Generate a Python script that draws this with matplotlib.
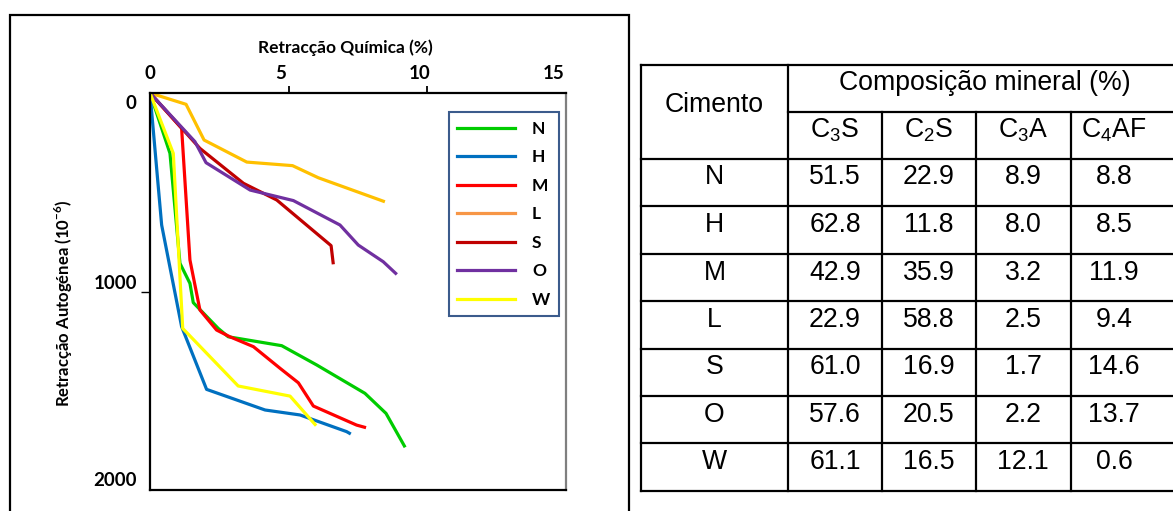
import matplotlib
matplotlib.use("Agg")
import matplotlib.pyplot as plt
from matplotlib.lines import Line2D
from matplotlib.transforms import ScaledTranslation

# Chemical shrinkage (%) vs autogenous shrinkage (1e-6) per cement
N_x = [0, 0.72, 1.08, 1.44, 1.56, 2.46, 2.82, 4.75, 6.01, 7.75, 8.51, 9.20]
N_y = [0, 304, 858, 959, 1056, 1186, 1228, 1273, 1370, 1513, 1614, 1785]
H_x = [0, 0.42, 1.14, 2.04, 4.15, 5.41, 7.09, 7.24]
H_y = [0, 665, 1177, 1493, 1597, 1622, 1706, 1718]
M_x = [0, 1.14, 1.44, 1.80, 2.40, 2.88, 3.73, 4.69, 5.35, 5.89, 7.45, 7.79]
M_y = [0, 178, 841, 1093, 1194, 1228, 1278, 1387, 1460, 1577, 1673, 1686]
L_x = [0, 1.30, 1.95, 3.49, 5.14, 6.07, 8.47]
L_y = [0, 57, 237, 348, 366, 427, 548]
S_x = [0, 1.80, 3.37, 4.57, 6.53, 6.61]
S_y = [0, 279, 455, 539, 769, 863]
O_x = [0, 1.62, 2.02, 3.61, 5.17, 6.85, 7.51, 8.41, 8.90]
O_y = [0, 245, 351, 489, 542, 665, 766, 850, 914]
W_x = [0, 0.84, 1.18, 3.18, 5.05, 5.99]
W_y = [0, 304, 1186, 1476, 1527, 1676]

series_names = ["N", "H", "M", "L", "S", "O", "W"]
series_x = [N_x, H_x, M_x, L_x, S_x, O_x, W_x]
series_y = [N_y, H_y, M_y, L_y, S_y, O_y, W_y]
line_colors = ["#00CC00", "#0070C0", "#FF0000", "#FFC000", "#C00000", "#7030A0", "#FFFF00"]
legend_colors = ["#00CC00", "#0070C0", "#FF0000", "#F79646", "#C00000", "#7030A0", "#FFFF00"]

x_ticks = [0, 5, 10, 15]
y_ticks = [0, 1000, 2000]

# Mineral composition table
cement = ["N", "H", "M", "L", "S", "O", "W"]
C3S = [51.5, 62.8, 42.9, 22.9, 61.0, 57.6, 61.1]
C2S = [22.9, 11.8, 35.9, 58.8, 16.9, 20.5, 16.5]
C3A = [8.9, 8.0, 3.2, 2.5, 1.7, 2.2, 12.1]
C4AF = [8.8, 8.5, 11.9, 9.4, 14.6, 13.7, 0.6]
phase_labels = ["C$_\\mathregular{3}$S", "C$_\\mathregular{2}$S",
                "C$_\\mathregular{3}$A", "C$_\\mathregular{4}$AF"]

W_PX, H_PX = 1173, 511
fig = plt.figure(figsize=(W_PX / 100, H_PX / 100), dpi=100)

CHART_FONT = ["Lato", "DejaVu Sans"]
TABLE_FONT = ["Liberation Sans", "DejaVu Sans"]

# Canvas axis in pixel units for the frame and the table
canvas = fig.add_axes([0, 0, 1, 1])
canvas.set_xlim(0, W_PX)
canvas.set_ylim(H_PX, 0)
canvas.axis("off")

# Frame round the chart
canvas.plot([10, 10, 629, 629], [520, 15, 15, 520], color="black", lw=1.6,
            solid_joinstyle="miter", clip_on=False)

def fx(px):
    return px / W_PX

def fy(py):
    return 1 - py / H_PX

left, right, top, bottom = 150, 566, 93, 490
ax = fig.add_axes([fx(left), fy(bottom), fx(right) - fx(left), fy(top) - fy(bottom)])

for name, xs, ys, col in zip(series_names, series_x, series_y, line_colors):
    ax.plot(xs, ys, color=col, lw=2.3, label=name, solid_joinstyle="round",
            solid_capstyle="butt")

ax.set_xlim(0, 15)
ax.set_ylim(2000, 0)
ax.xaxis.tick_top()
ax.set_xticks(x_ticks)
ax.set_yticks(y_ticks)
ax.set_xticklabels([str(v) for v in x_ticks], fontfamily=CHART_FONT,
                   fontweight="bold", fontsize=13.5)
ax.set_yticklabels([str(v) for v in y_ticks], fontfamily=CHART_FONT,
                   fontweight="bold", fontsize=13.5)
ax.tick_params(axis="x", direction="out", length=5, width=1.3, pad=3)
ax.tick_params(axis="y", direction="out", length=6.5, width=1.0, pad=3)

# Corner ticks are hidden; only the inner ticks show
for t in [ax.xaxis.get_major_ticks()[0], ax.xaxis.get_major_ticks()[-1],
          ax.yaxis.get_major_ticks()[0], ax.yaxis.get_major_ticks()[-1]]:
    t.tick1line.set_visible(False)
    t.tick2line.set_visible(False)

# Tick labels sit a little off their ticks
x_shift = [0, -8, -8, -12]
for lab, dx in zip(ax.get_xticklabels(), x_shift):
    lab.set_transform(lab.get_transform() + ScaledTranslation(dx / 100, 0, fig.dpi_scale_trans))
y_shift = [-9, 10, 11]
for lab, dy in zip(ax.get_yticklabels(), y_shift):
    lab.set_transform(lab.get_transform() + ScaledTranslation(0, dy / 100, fig.dpi_scale_trans))

for side in ["left", "top", "bottom"]:
    ax.spines[side].set_color("black")
    ax.spines[side].set_linewidth(1.6)
ax.spines["right"].set_color("#7F7F7F")
ax.spines["right"].set_linewidth(1.6)

ax.xaxis.set_label_position("top")
ax.set_xlabel("Retracção Química (%)", fontfamily=CHART_FONT, fontweight="bold",
              fontsize=12.5)
ax.xaxis.set_label_coords(0.469, 1.10)
ax.set_ylabel("Retracção Autogénea (10$^{\\mathregular{-6}}$)", fontfamily=CHART_FONT,
              fontweight="bold", fontsize=12)
ax.yaxis.set_label_coords(-0.18, 0.47)

handles = [Line2D([], [], color=c, lw=2.3) for c in legend_colors]
leg = ax.legend(handles, series_names, loc="upper right",
                bbox_to_anchor=((559 - left) / (right - left), 1 - (112 - top) / (bottom - top)),
                borderaxespad=0, frameon=True, fancybox=False, framealpha=1,
                handlelength=3.3, handletextpad=1.0, labelspacing=0.72,
                borderpad=0.5, prop={"family": CHART_FONT, "weight": "bold", "size": 12.5})
leg.get_frame().set_edgecolor("#3B5B8C")
leg.get_frame().set_linewidth(1.5)

# Table
col_x = [641, 788, 882, 976, 1071, 1180]
row_y = [65, 112, 159, 206, 254, 301, 349, 396, 443, 491]
kw_line = dict(color="black", lw=1.6, clip_on=False, solid_capstyle="projecting")
canvas.plot([col_x[0], col_x[-1]], [row_y[0], row_y[0]], **kw_line)
canvas.plot([col_x[1], col_x[-1]], [row_y[1], row_y[1]], **kw_line)
for yv in row_y[2:]:
    canvas.plot([col_x[0], col_x[-1]], [yv, yv], **kw_line)
canvas.plot([col_x[0], col_x[0]], [row_y[0], row_y[-1]], **kw_line)
canvas.plot([col_x[1], col_x[1]], [row_y[0], row_y[-1]], **kw_line)
for xv in col_x[2:5]:
    canvas.plot([xv, xv], [row_y[1], row_y[-1]], **kw_line)

tkw = dict(fontfamily=TABLE_FONT, fontsize=19.2, ha="center", va="center", color="black")
lift = 5
canvas.text((col_x[0] + col_x[1]) / 2, (row_y[0] + row_y[2]) / 2 - 7, "Cimento", **tkw)
canvas.text(985, (row_y[0] + row_y[1]) / 2 - lift, "Composição mineral (%)", **tkw)
col_centers = [835, 929, 1023, 1114]
for cx, lab in zip(col_centers, phase_labels):
    canvas.text(cx, (row_y[1] + row_y[2]) / 2 - lift, lab, **tkw)
for i, name in enumerate(cement):
    cy = (row_y[2 + i] + row_y[3 + i]) / 2 - lift
    canvas.text((col_x[0] + col_x[1]) / 2, cy, name, **tkw)
    for cx, vals in zip(col_centers, [C3S, C2S, C3A, C4AF]):
        canvas.text(cx, cy, f"{vals[i]:.1f}", **tkw)

fig.savefig("out.png", dpi=100)
